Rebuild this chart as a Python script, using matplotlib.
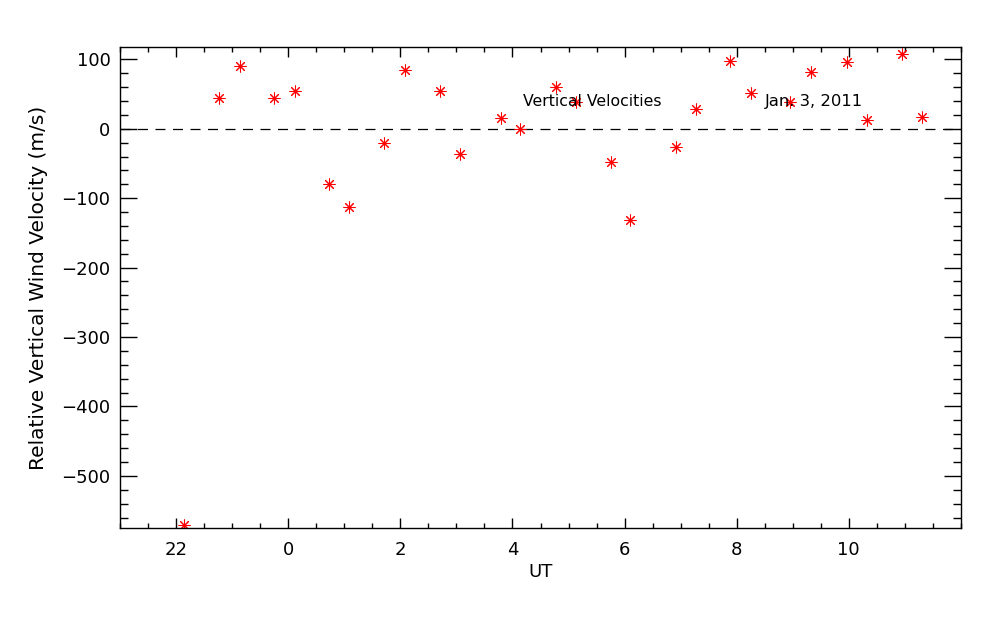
import numpy as np
import matplotlib
matplotlib.use('Agg')
import matplotlib.pyplot as plt
from matplotlib.ticker import MultipleLocator, FixedLocator

# UT in hours, continued past midnight (24 -> 0)
ut = np.array([22.14, 22.77, 23.13, 23.75, 24.11, 24.73, 25.08, 25.71, 26.08,
               26.71, 27.07, 27.79, 28.14, 28.77, 29.13, 29.75, 30.10, 30.91,
               31.28, 31.89, 32.25, 32.96, 33.33, 33.97, 34.32, 34.95, 35.31])
vel = np.array([-571, 45, 91, 45, 54, -79, -113, -20, 84,
                54, -36, 16, 0, 60, 38, -48, -131, -26,
                29, 98, 52, 39, 82, 96, 13, 107, 17])

xticks = [22, 24, 26, 28, 30, 32, 34]
xlabels = ['22', '0', '2', '4', '6', '8', '10']
yticks = [100, 0, -100, -200, -300, -400, -500]
ylabels = ['100', '0', '\u2212100', '\u2212200', '\u2212300', '\u2212400', '\u2212500']

plt.rcParams['font.family'] = ['DejaVu Sans']

fig = plt.figure(figsize=(10, 6.25), dpi=100)
ax = fig.add_axes([0.1203, 0.1547, 0.8404, 0.7696])

ax.axhline(0, color='black', lw=0.9, linestyle=(0, (8, 6)))
ax.plot(ut, vel, linestyle='none', marker=(8, 2, 0), ms=8.5, mew=0.75,
        color='red')

ax.set_xlim(21, 36)
ax.set_ylim(-575.5, 117.3)

ax.xaxis.set_major_locator(FixedLocator(xticks))
ax.set_xticklabels(xlabels)
ax.xaxis.set_minor_locator(MultipleLocator(0.5))
ax.yaxis.set_major_locator(FixedLocator(yticks))
ax.set_yticklabels(ylabels)
ax.yaxis.set_minor_locator(MultipleLocator(20))

ax.tick_params(which='both', direction='in', top=True, right=True,
               width=1.0, colors='black', labelsize=13)
ax.tick_params(axis='x', which='major', length=7.5, pad=9)
ax.tick_params(axis='x', which='minor', length=3.7)
ax.tick_params(axis='y', which='major', length=12.5, pad=7)
ax.tick_params(axis='y', which='minor', length=6)
for s in ax.spines.values():
    s.set_linewidth(1.0)

ax.set_xlabel('UT', fontsize=13, labelpad=3)
ax.set_ylabel('Relative Vertical Wind Velocity (m/s)', fontsize=14.5, labelpad=10)

ax.text(28.19, 39, 'Vertical Velocities', fontsize=11.3, va='center', ha='left')
ax.text(32.51, 39, 'Jan. 3, 2011', fontsize=11.8, va='center', ha='left')

fig.savefig('out.png', dpi=100)
